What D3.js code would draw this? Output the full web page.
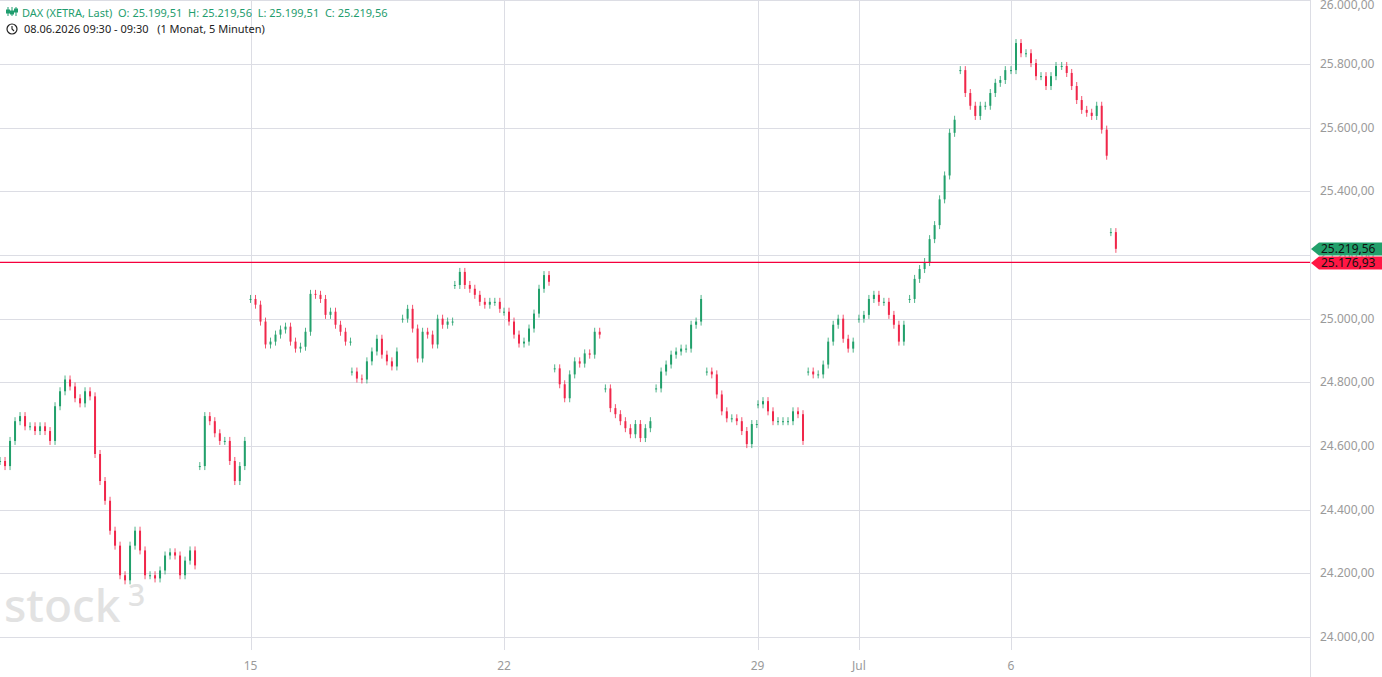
<!DOCTYPE html>
<html><head><meta charset="utf-8">
<script src="https://cdn.jsdelivr.net/npm/d3@7"></script>
<style>body{margin:0;background:#fff;font-family:"Noto Sans","Open Sans",sans-serif}</style>
</head><body>
<script>
// trading-day index (08.06 = 0) where each segment starts, and closes (5-minute candles sampled)
const segStarts = [0.06, 4.0, 5.0, 7.0, 8.0, 9.03, 10.0, 11.0, 12.0, 13.0, 14.0, 15.01, 16.0, 17.0, 18.0, 19.0, 20.0, 21.0, 21.97];
const segCloses = [
 [24553,24537,24616,24678,24694,24662,24662,24647,24662,24647,24616,24725,24772,24809,24787,24750,24734,24772,24756,24575,24490,24428,24334,24287,24194,24178,24287,24334,24272,24194,24194,24184,24209,24256,24266,24256,24194,24240,24272,24225],
 [24537,24694,24678,24640,24616,24616,24553,24490,24537,24616],
 [25062,25044,24991,24919,24928,24950,24966,24975,24928,24906,24912,24959,25078,25075,25062,25012,25022,24981,24959,24928],
 [24834,24812,24809,24866,24897,24937,24887,24866,24850,24897],
 [25000,25031,24969,24875,24959,24950,24919,25000,24981,24991],
 [25106,25147,25106,25094,25075,25053,25044,25053,25053,25031],
 [25022,24991,24950,24922,24928,24969,25016,25094,25137,25116],
 [24844,24794,24750,24825,24866,24859,24891,24887,24959,24950],
 [24781,24719,24700,24678,24656,24637,24669,24625,24656,24678],
 [24781,24834,24856,24887,24897,24906,24906,24981,24991,25062],
 [24834,24825,24762,24709,24687,24687,24678,24647,24606,24669],
 [24731,24741,24709,24678,24678,24678,24678,24709,24700,24616],
 [24834,24825,24825,24856,24928,24981,25000,24937,24906,24928],
 [25000,25012,25062,25075,25053,25053,25012,24981,24928,24981],
 [25062,25125,25156,25178,25250,25294,25375,25450,25584,25625],
 [25781,25709,25669,25637,25669,25669,25709,25741,25750,25781],
 [25781,25866,25834,25834,25803,25762,25762,25731,25762,25794],
 [25794,25772,25731,25687,25656,25647,25637,25669,25594,25512],
 [25272,25219.56]
];
const dayTicks = [5, 10, 15, 17, 20];
const dayTickLabels = ["15", "22", "29", "Jul", "6"];
const yTicks = [24000,24200,24400,24600,24800,25000,25200,25400,25600,25800,26000];
const lastPrice = 25219.56, refPrice = 25176.93;
const headerVals = {O:"25.199,51", H:"25.219,56", L:"25.199,51", C:"25.219,56"};

const W=1382,H=677, plotR=1310, plotB=650;
const STEP = 5/50.7;
const loc = d3.formatLocale({decimal:",",thousands:".",grouping:[3],currency:["","€"]});
const fmt = loc.format(",.2f");
const x = d3.scaleLinear().domain([0,1]).range([-3,47.7]);
const y = d3.scaleLinear().domain([24000,26000]).range([637,0.4]);
const green="#22a06b", red="#f0274a";

const svg=d3.select("body").append("svg").attr("width",W).attr("height",H);
svg.selectAll("line.h").data(yTicks).join("line").attr("x1",0).attr("x2",plotR)
  .attr("y1",d=>Math.round(y(d))+.5).attr("y2",d=>Math.round(y(d))+.5).attr("stroke","#dcdde4");
svg.selectAll("line.v").data(dayTicks).join("line").attr("y1",0).attr("y2",plotB)
  .attr("x1",d=>Math.round(x(d))+.5).attr("x2",d=>Math.round(x(d))+.5).attr("stroke","#dcdde4");
svg.append("line").attr("x1",plotR+.5).attr("x2",plotR+.5).attr("y1",0).attr("y2",H).attr("stroke","#dcdde4");

svg.append("text").attr("x",4).attr("y",622).attr("font-size",46).attr("font-weight",500)
  .attr("fill","#e2e2e2").text("stock");
svg.append("text").attr("x",128).attr("y",606).attr("font-size",30).attr("font-weight",500)
  .attr("fill","#e2e2e2").text("3");

const candles=[];
segCloses.forEach((cl,si)=>{
  const nextStart = segStarts[si+1];
  cl.forEach((c,i)=>{
    const o = i===0 ? c : cl[i-1];
    candles.push({t:segStarts[si]+i*STEP,o,c});
  });
  // fill to next contiguous segment start
  if(nextStart!==undefined){
    const lastT = segStarts[si]+(cl.length-1)*STEP;
    if(nextStart-lastT < STEP*1.8 && nextStart-lastT > STEP*1.2){
      candles.push({t:lastT+STEP,o:cl[cl.length-1],c:cl[cl.length-1]});
    }
  }
});
const g=svg.append("g");
candles.forEach(k=>{
  const col = k.c>=k.o?green:red;
  const xx=x(k.t);
  const top=y(Math.max(k.o,k.c)), bot=y(Math.min(k.o,k.c));
  g.append("line").attr("x1",xx).attr("x2",xx).attr("y1",top-4).attr("y2",bot+4).attr("stroke",col).attr("stroke-width",0.8);
  g.append("rect").attr("x",xx-1).attr("width",2).attr("y",top).attr("height",Math.max(1,bot-top)).attr("fill",col);
});

svg.append("line").attr("x1",0).attr("x2",plotR).attr("y1",y(refPrice)).attr("y2",y(refPrice)).attr("stroke","#f5003d").attr("stroke-width",1.2);

svg.selectAll("text.yl").data(yTicks).join("text").attr("x",1320).attr("y",d=>Math.max(9,y(d)+4))
  .attr("font-size",12).attr("fill","#9a9a9a").text(d=>fmt(d));
svg.selectAll("text.xl").data(dayTicks).join("text").attr("x",(d)=>x(d)).attr("y",670)
  .attr("text-anchor","middle").attr("font-size",12).attr("fill","#9a9a9a").text((d,i)=>dayTickLabels[i]);

function tag(v,col,yy){
  svg.append("path").attr("d",`M${plotR+1},${yy} L${plotR+9},${yy-6.5} L${W},${yy-6.5} L${W},${yy+6.5} L${plotR+9},${yy+6.5} Z`).attr("fill",col);
  svg.append("text").attr("x",1321).attr("y",yy+4.3).attr("font-size",12).attr("fill","#111").text(fmt(v));
}
tag(lastPrice,green,249);
tag(refPrice,"#ff1744",263);

const h1=svg.append("text").attr("x",22).attr("y",17).attr("font-size",11).attr("fill","#1f9d6e").attr("xml:space","preserve");
h1.text(`DAX (XETRA, Last)  O: ${headerVals.O}  H: ${headerVals.H}  L: ${headerVals.L}  C: ${headerVals.C}`);
const ic=svg.append("g").attr("stroke","#1f9d6e").attr("stroke-width",1);
[[8,7,16,10,13],[12,7,16,11,14],[16,7,16,9,12]].forEach(a=>{
  ic.append("line").attr("x1",a[0]).attr("x2",a[0]).attr("y1",a[1]).attr("y2",a[2]);
  ic.append("rect").attr("x",a[0]-1.5).attr("y",a[3]).attr("width",3).attr("height",a[4]-a[3]).attr("fill","#1f9d6e");
});
svg.append("circle").attr("cx",12).attr("cy",29).attr("r",5).attr("fill","none").attr("stroke","#222").attr("stroke-width",1.2);
svg.append("path").attr("d","M12,26 L12,29 L14,31").attr("fill","none").attr("stroke","#222").attr("stroke-width",1.1);
svg.append("text").attr("x",24).attr("y",33).attr("font-size",11).attr("fill","#222").attr("xml:space","preserve")
  .text("08.06.2026 09:30 - 09:30   (1 Monat, 5 Minuten)");
</script>
</body></html>
